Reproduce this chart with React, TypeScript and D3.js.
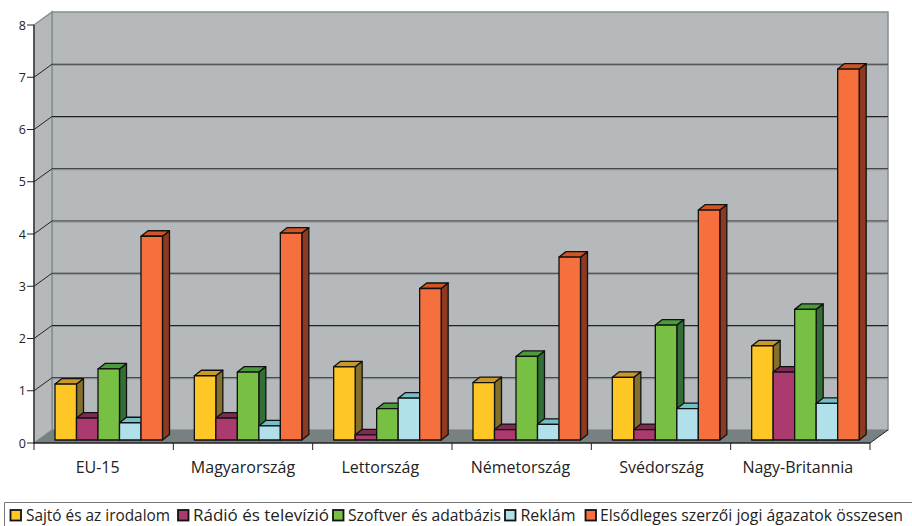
import React from "react";
import * as d3 from "d3";

const categories = ["EU-15", "Magyarország", "Lettország", "Németország", "Svédország", "Nagy-Britannia"];
const seriesNames = ["Sajtó és az irodalom", "Rádió és televízió", "Szoftver és adatbázis", "Reklám", "Elsődleges szerzői jogi ágazatok összesen"];
const sajto = [1.07, 1.23, 1.4, 1.1, 1.2, 1.8];
const radio = [0.42, 0.42, 0.1, 0.2, 0.2, 1.3];
const szoftver = [1.36, 1.3, 0.6, 1.6, 2.2, 2.5];
const reklam = [0.33, 0.27, 0.8, 0.3, 0.6, 0.7];
const elsodleges = [3.9, 3.96, 2.9, 3.5, 4.4, 7.1];
const allSeries = [sajto, radio, szoftver, reklam, elsodleges];
const yTicks = [0, 1, 2, 3, 4, 5, 6, 7, 8];

const front = ["#ffc726", "#ab3a6f", "#77c043", "#b0e0ea", "#f5703c"];
const topC = ["#c9982a", "#7e2a52", "#4b9a3c", "#74c0c8", "#cf5526"];
const side = ["#84702c", "#5c1f3e", "#336e36", "#6aa6ad", "#8d3a20"];
const legendText = [26, 193, 348, 520.5, 600];
const legendSwatch = [10.5, 178, 333, 505, 585.5];
const legendWidth = [144, 136, 153, 55, 303];
const labelOffset = [-6, 0, -2, -1.2, 0.4, -2.5];

const FONT = "'Open Sans', 'Noto Sans', sans-serif";

export default function App() {
  const x = d3.scaleBand<number>().domain(d3.range(categories.length)).range([34, 870]);
  const y = d3.scaleLinear().domain([0, 8]).range([443, 25]);
  const dx = 18, dy = -13;
  const barDx = 7, barDy = -5.5;
  const bx = 21, by = -3;
  const bw = 21.5;
  const line = d3.line();
  const poly = (p: [number, number][]) => line(p)! + "Z";
  const [x0, x1] = x.range();
  const y0 = y(0), y8 = y(8);

  return (
    <svg width={912} height={526} style={{ position: "absolute", left: 0, top: 0, fontFamily: FONT }}>
      <path d={poly([[x0 + dx, y8 + dy], [x1 + dx, y8 + dy], [x1 + dx, y0 + dy], [x0 + dx, y0 + dy]])} fill="#b6b9bc" stroke="#82908f" strokeWidth={1.5} />
      <path d={poly([[x0, y8], [x0 + dx, y8 + dy], [x0 + dx, y0 + dy], [x0, y0]])} fill="#b6b9bc" stroke="#82908f" strokeWidth={1.5} />
      <path d={poly([[x0, y0], [x1, y0], [x1 + dx, y0 + dy], [x0 + dx, y0 + dy]])} fill="#788182" />
      {yTicks.filter((t) => t > 0 && t < 8).map((t) => (
        <g key={t}>
          <line x1={x0 + dx} x2={x1 + dx} y1={y(t) + dy} y2={y(t) + dy} stroke="#222" strokeWidth={1} />
          <line x1={x0 + dx} x2={x1 + dx} y1={y(t) + dy + 1} y2={y(t) + dy + 1} stroke="#8a9090" strokeWidth={1} />
          <line x1={x0} x2={x0 + dx} y1={y(t)} y2={y(t) + dy} stroke="#222" strokeWidth={1} />
        </g>
      ))}
      <line x1={x1} x2={x1 + dx} y1={y0} y2={y0 + dy} stroke="#222" strokeWidth={1} />
      {categories.map((c, i) =>
        allSeries.map((s, k) => {
          const l = x(i)! + bx + k * bw;
          const r = l + bw;
          const b = y0 + by;
          const t = b - (y0 - y(s[i]));
          return (
            <g key={c + k} stroke="#111" strokeWidth={1.3} strokeLinejoin="round">
              <path d={poly([[r, b], [r + barDx, b + barDy], [r + barDx, t + barDy], [r, t]])} fill={side[k]} />
              <path d={poly([[l, t], [r, t], [r + barDx, t + barDy], [l + barDx, t + barDy]])} fill={topC[k]} />
              <rect x={l} y={t} width={bw} height={b - t} fill={front[k]} />
            </g>
          );
        })
      )}
      <line x1={x0} x2={x0} y1={y8} y2={y0} stroke="#222" strokeWidth={1.2} />
      <line x1={x0} x2={x1} y1={y0} y2={y0} stroke="#222" strokeWidth={1.5} />
      {yTicks.map((t) => (
        <g key={t}>
          <line x1={x0 - 7} x2={x0} y1={y(t)} y2={y(t)} stroke="#222" strokeWidth={1} />
          <text x={x0 - 8} y={y(t) + 4.5} textAnchor="end" fontSize={12.5} fill="#222">{t}</text>
        </g>
      ))}
      {d3.range(categories.length + 1).map((i) => {
        const px = x0 + i * x.step();
        return <line key={i} x1={px} x2={px} y1={y0} y2={y0 + 7} stroke="#222" strokeWidth={1} />;
      })}
      {categories.map((c, i) => (
        <text key={c} x={x(i)! + x.bandwidth() / 2 + labelOffset[i]} y={473} textAnchor="middle" fontSize={16} fill="#222">{c}</text>
      ))}
      <path d="M4.5,526V502.5H912" fill="none" stroke="#777" strokeWidth={1} />
      {seriesNames.map((n, k) => (
        <g key={n}>
          <rect x={legendSwatch[k]} y={510} width={10.5} height={10.5} fill={front[k]} stroke="#111" strokeWidth={1.8} />
          <text x={legendText[k]} y={521} fontSize={16} fill="#222" textLength={legendWidth[k]} lengthAdjust="spacingAndGlyphs">{n}</text>
        </g>
      ))}
    </svg>
  );
}
